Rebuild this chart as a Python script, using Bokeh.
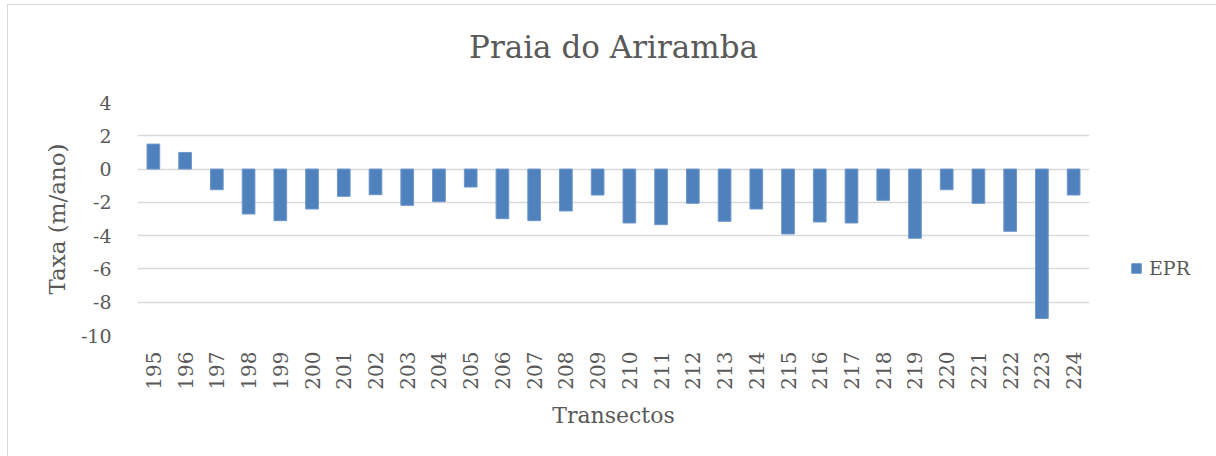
from bokeh.plotting import figure
from bokeh.models import (Range1d, FactorRange, Legend, LegendItem, ColumnDataSource,
                          FixedTicker, Title, CustomJSTickFormatter)
from bokeh.embed import file_html
from bokeh.resources import INLINE

# ---- data ----
transectos = [str(t) for t in range(195, 225)]
epr = [1.5, 1.0, -1.24, -2.7, -3.1, -2.4, -1.64, -1.54, -2.18, -1.96,
       -1.08, -2.98, -3.1, -2.52, -1.56, -3.24, -3.34, -2.06, -3.14, -2.4,
       -3.9, -3.18, -3.24, -1.88, -4.16, -1.24, -2.06, -3.74, -8.98, -1.56]
y_ticks = [-10, -8, -6, -4, -2, 0, 2, 4]

TXT = "#595959"
FONT = "DejaVu Serif"

src = ColumnDataSource(dict(x=transectos, top=epr))

p = figure(width=1208, height=451, frame_width=952, frame_height=233,
           output_backend="svg", toolbar_location=None,
           x_range=FactorRange(*transectos, range_padding=0),
           y_range=Range1d(-10, 4),
           min_border_left=129, min_border_right=127,
           min_border_top=97, min_border_bottom=121)

p.title = Title(text="Praia do Ariramba", align="center", text_font=FONT,
                text_font_size="31px", text_font_style="normal", text_color=TXT,
                standoff=10)
# invisible spacer between the title and the plot area
p.add_layout(Title(text=" ", text_font_size="1px", standoff=30), "above")

r = p.vbar(x="x", top="top", bottom=0, width=0.4, source=src,
           fill_color="#4F81BD", line_color="#6E97CC", line_width=1)

p.outline_line_color = None
p.background_fill_color = "white"
p.border_fill_color = "white"

# grid
p.xgrid.grid_line_color = None
p.ygrid.grid_line_color = "#D9D9D9"
p.ygrid.grid_line_width = 1.5
p.yaxis.ticker = FixedTicker(ticks=y_ticks)
p.yaxis.formatter = CustomJSTickFormatter(code="return String(tick);")

# y axis
p.yaxis.axis_line_color = None
p.yaxis.major_tick_line_color = None
p.yaxis.minor_tick_line_color = None
p.yaxis.major_label_text_font = FONT
p.yaxis.major_label_text_font_size = "19px"
p.yaxis.major_label_text_color = TXT
p.yaxis.major_label_standoff = 20
p.yaxis.axis_label = "Taxa (m/ano)"
p.yaxis.axis_label_text_font = FONT
p.yaxis.axis_label_text_font_size = "23px"
p.yaxis.axis_label_text_font_style = "normal"
p.yaxis.axis_label_text_color = TXT
p.yaxis.axis_label_standoff = 8

# x axis
p.xaxis.axis_line_color = None
p.xaxis.major_tick_line_color = None
p.xaxis.minor_tick_line_color = None
p.xaxis.major_label_orientation = 1.5708
p.xaxis.major_label_text_font = FONT
p.xaxis.major_label_text_font_size = "20px"
p.xaxis.major_label_text_color = TXT
p.xaxis.major_label_standoff = 10
p.xaxis.axis_label = "Transectos"
p.xaxis.axis_label_text_font = FONT
p.xaxis.axis_label_text_font_size = "22px"
p.xaxis.axis_label_text_font_style = "normal"
p.xaxis.axis_label_text_color = TXT
p.xaxis.axis_label_standoff = 10

legend = Legend(items=[LegendItem(label="EPR", renderers=[r])],
                location=(41, 56), orientation="vertical",
                border_line_color=None, background_fill_alpha=0,
                padding=0, margin=0, spacing=0,
                glyph_width=12, glyph_height=12, label_standoff=7,
                label_text_font=FONT, label_text_font_size="19px",
                label_text_color=TXT)
p.add_layout(legend, "right")

p.styles = {"margin-left": "7px", "margin-top": "4px",
            "border-left": "1px solid #D9D9D9", "border-top": "1px solid #D9D9D9"}

open("out.html", "w").write(file_html(p, INLINE))
